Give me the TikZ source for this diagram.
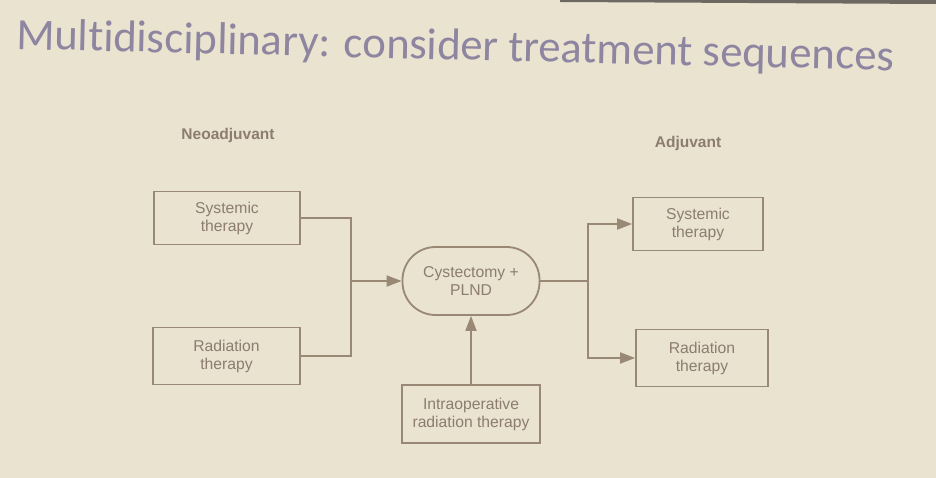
\documentclass[tikz,border=0pt]{standalone}
\usepackage{fontspec}
\setmainfont{Liberation Sans}
\newfontfamily\titlefont[Ligatures=NoCommon]{Carlito}
\usetikzlibrary{arrows.meta}
\definecolor{bgc}{HTML}{E9E3D0}
\definecolor{linec}{HTML}{998873}
\definecolor{textc}{HTML}{8C7D6E}
\definecolor{titlec}{HTML}{8E86A0}
\definecolor{topband}{HTML}{6E6863}
\tikzset{
  box/.style={draw=linec, line width=1.8pt, text=textc, align=center,
    inner sep=0pt, font=\fontsize{15.7}{18}\selectfont},
  pill/.style={box, rounded corners=33pt},
  conn/.style={draw=linec, line width=1.8pt},
  arr/.style={conn, -{Triangle[length=15pt,width=11pt]}},
  head/.style={text=textc, font=\bfseries\fontsize{15.5}{18}\selectfont, inner sep=0pt},
}
\begin{document}
\begin{tikzpicture}[x=1pt,y=-1pt]
\fill[bgc] (0,0) rectangle (936,478);
\useasboundingbox (0,0) rectangle (936,478);
\fill[topband] (560,0) -- (936,0) -- (936,4) -- (560,2) -- cycle;
\node[anchor=base west, rotate=-1.4, text=titlec, inner sep=0pt, font=\titlefont\fontsize{44.7}{52}\selectfont] (title) at (16,49) {Multidisciplinary: consider treatment sequences};
\node[head] (neo) at (228,135) {Neoadjuvant};
\node[head] (adj) at (688,143) {Adjuvant};
\node[box, minimum width=146pt, minimum height=53pt] (ls) at (227,218) {Systemic\\therapy};
\node[box, minimum width=147pt, minimum height=57pt] (lr) at (226.5,356) {Radiation\\therapy};
\node[pill, minimum width=137pt, minimum height=68pt] (cy) at (471,281) {Cystectomy +\\PLND};
\node[box, minimum width=138pt, minimum height=58pt] (io) at (471,414) {Intraoperative\\radiation therapy};
\node[box, minimum width=130pt, minimum height=53pt] (rs) at (698,224) {Systemic\\therapy};
\node[box, minimum width=132pt, minimum height=57pt] (rr) at (702,358) {Radiation\\therapy};
\coordinate (j) at (351,281);
\coordinate (k) at (588,281);
\draw[conn] (ls.east) -| (j);
\draw[conn] (lr.east) -| (j);
\draw[arr] (j) -- (cy.west);
\draw[conn] (cy.east) -- (k);
\draw[arr] (k) |- (rs.west);
\draw[arr] (k) |- (rr.west);
\draw[arr] (io.north) -- (cy.south);
\end{tikzpicture}
\end{document}
